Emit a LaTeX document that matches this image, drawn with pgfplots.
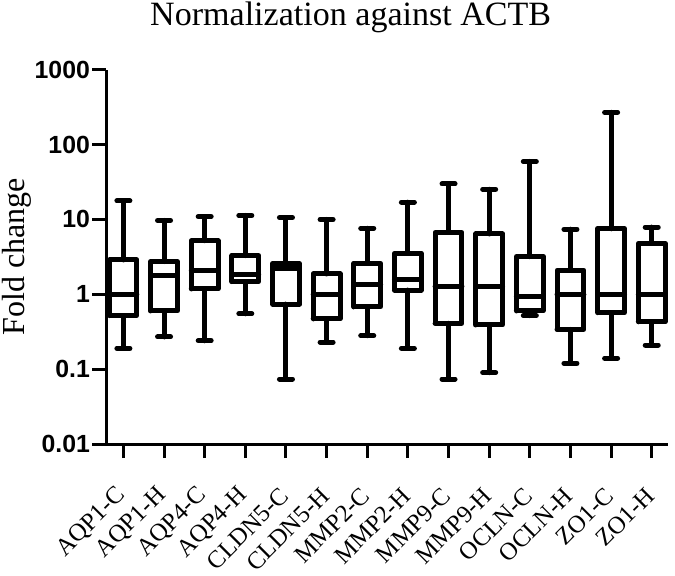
\documentclass[border=0pt]{standalone}
\usepackage{fontspec}
\setmainfont{Liberation Serif}
\newfontfamily\arialfont{Liberation Sans}
\usepackage{pgfplots}
\pgfplotsset{compat=1.18}
% #1 position, #2 lower whisker, #3 lower quartile, #4 median, #5 upper quartile, #6 upper whisker
\newcommand\bx[6]{%
  \pgfmathsetmacro\xl{#1-0.33}\pgfmathsetmacro\xr{#1+0.33}%
  \pgfmathsetmacro\capl{#1-0.16}\pgfmathsetmacro\capr{#1+0.16}%
  \addplot[black, line width=2.5pt, line cap=round, line join=round, unbounded coords=jump]
    coordinates {(\xl,#3) (\xr,#3) (\xr,#5) (\xl,#5) (\xl,#3) (#1,nan)
                 (\xl,#4) (\xr,#4) (#1,nan)
                 (#1,#5) (#1,#6) (#1,nan) (\capl,#6) (\capr,#6) (#1,nan)
                 (#1,#3) (#1,#2) (#1,nan) (\capl,#2) (\capr,#2)};
}
\begin{document}
\begin{tikzpicture}
\begin{axis}[
  scale only axis, width=280.5pt, height=187pt,
  ymode=log, ymin=0.01, ymax=1000,
  xmin=-0.42, xmax=13.4,
  axis x line*=bottom, axis y line*=left,
  axis line style={line width=1.5pt},
  every tick/.style={line width=1.5pt, black},
  major tick length=7pt, tick align=outside,
  yminorticks=false,
  ytick={0.01,0.1,1,10,100,1000},
  yticklabels={0.01,0.1,1,10,100,1000},
  yticklabel style={font=\arialfont\bfseries\fontsize{12.4pt}{14pt}\selectfont, inner sep=1pt},
  xtick={0,...,13},
  xticklabels={AQP1-C,AQP1-H,AQP4-C,AQP4-H,CLDN5-C,CLDN5-H,MMP2-C,MMP2-H,MMP9-C,MMP9-H,OCLN-C,OCLN-H,ZO1-C,ZO1-H},
  xticklabel shift=16pt,
  xticklabel style={rotate=45, anchor=east, font=\fontsize{12.3pt}{14pt}\selectfont, inner sep=1pt},
  clip=false,
]
\bx{0}{0.19}{0.52}{1.0}{2.88}{17.7}
\bx{1}{0.27}{0.60}{1.76}{2.74}{9.7}
\bx{2}{0.24}{1.18}{2.07}{5.2}{10.9}
\bx{3}{0.55}{1.48}{1.85}{3.29}{11.3}
\bx{4}{0.074}{0.74}{2.18}{2.57}{10.6}
\bx{5}{0.23}{0.47}{1.0}{1.87}{10.0}
\bx{6}{0.28}{0.68}{1.35}{2.6}{7.6}
\bx{7}{0.19}{1.14}{1.6}{3.53}{17}
\bx{8}{0.074}{0.41}{1.29}{6.7}{29.8}
\bx{9}{0.09}{0.39}{1.29}{6.4}{25.3}
\bx{10}{0.52}{0.60}{0.95}{3.19}{59.4}
\bx{11}{0.12}{0.34}{1.0}{2.11}{7.4}
\bx{12}{0.14}{0.57}{1.0}{7.5}{269}
\bx{13}{0.21}{0.43}{1.0}{4.8}{7.9}
\node[anchor=base, inner sep=1pt, font=\fontsize{17pt}{20pt}\selectfont] at ([yshift=22pt]rel axis cs:0.435,1) {Normalization against ACTB};
\node[rotate=90, anchor=base, inner sep=1pt, font=\fontsize{16pt}{19pt}\selectfont] at ([xshift=-41pt]rel axis cs:0,0.5) {Fold change};
\path ([xshift=3.5pt]rel axis cs:1,0) coordinate (rb);
\end{axis}
\end{tikzpicture}
\end{document}
